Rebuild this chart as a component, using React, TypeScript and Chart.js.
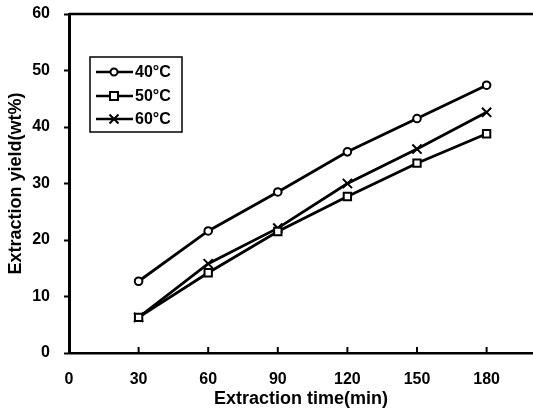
import React, { useEffect, useRef } from 'react';
import { Chart, registerables } from 'chart.js';
Chart.register(...registerables);

const times = [30, 60, 90, 120, 150, 180];
const yield40 = [12.7, 21.6, 28.5, 35.6, 41.5, 47.4];
const yield50 = [6.3, 14.2, 21.5, 27.7, 33.6, 38.8];
const yield60 = [6.3, 15.8, 22.1, 30.0, 36.1, 42.6];
const seriesLabels = ['40°C', '50°C', '60°C'];
const xTickValues = [0, 30, 60, 90, 120, 150, 180];
const yTickValues = [0, 10, 20, 30, 40, 50, 60];
const xTitle = 'Extraction time(min)';
const yTitle = 'Extraction yield(wt%)';

const FONT = '"Liberation Sans", Arial, sans-serif';

function drawMarker(ctx: CanvasRenderingContext2D, style: string, x: number, y: number) {
  ctx.save();
  ctx.lineWidth = 2;
  ctx.strokeStyle = '#000';
  ctx.fillStyle = '#fff';
  ctx.beginPath();
  if (style === 'circle') {
    ctx.arc(x, y, 3.5, 0, Math.PI * 2);
    ctx.fill();
    ctx.stroke();
  } else if (style === 'rect') {
    ctx.rect(x - 4, y - 4, 8, 8);
    ctx.fill();
    ctx.stroke();
  } else {
    const r = 4.5;
    ctx.moveTo(x - r, y - r);
    ctx.lineTo(x + r, y + r);
    ctx.moveTo(x + r, y - r);
    ctx.lineTo(x - r, y + r);
    ctx.stroke();
  }
  ctx.restore();
}

const framePlugin = {
  id: 'frame',
  afterDraw(chart: any) {
    const ctx = chart.ctx as CanvasRenderingContext2D;
    const { left, right, top, bottom } = chart.chartArea;
    const xs = chart.scales.x;
    ctx.save();
    ctx.strokeStyle = '#000';
    ctx.lineWidth = 2.5;
    ctx.beginPath();
    ctx.moveTo(left, top);
    ctx.lineTo(right, top);
    ctx.stroke();
    ctx.lineWidth = 2;
    xTickValues.forEach((v) => {
      if (v === 0) return;
      const px = xs.getPixelForValue(v);
      ctx.beginPath();
      ctx.moveTo(px, bottom);
      ctx.lineTo(px, bottom - 6);
      ctx.stroke();
    });
    const bx = 90, by = 57, bw = 92, bh = 75;
    ctx.lineWidth = 1.5;
    ctx.fillStyle = '#fff';
    ctx.fillRect(bx, by, bw, bh);
    ctx.strokeRect(bx, by, bw, bh);
    const styles = ['circle', 'rect', 'crossRot'];
    const rowsY = [72, 96, 119];
    ctx.font = `bold 16px ${FONT}`;
    ctx.textBaseline = 'middle';
    ctx.textAlign = 'left';
    rowsY.forEach((ry, i) => {
      ctx.lineWidth = 2.5;
      ctx.beginPath();
      ctx.moveTo(96, ry);
      ctx.lineTo(133, ry);
      ctx.stroke();
      drawMarker(ctx, styles[i], 114, ry);
      ctx.fillStyle = '#000';
      ctx.fillText(seriesLabels[i], 135, ry + 1);
    });
    ctx.restore();
  },
};

export default function App() {
  const ref = useRef<HTMLCanvasElement | null>(null);
  useEffect(() => {
    if (!ref.current) return;
    const mk = (vals: number[]) => times.map((t, i) => ({ x: t, y: vals[i] }));
    const common = {
      borderColor: '#000',
      borderWidth: 2.8,
      pointBorderColor: '#000',
      pointBackgroundColor: '#fff',
      pointBorderWidth: 2,
      tension: 0,
      fill: false,
    };
    const chart = new Chart(ref.current, {
      type: 'line',
      data: {
        datasets: [
          { ...common, label: seriesLabels[0], data: mk(yield40), pointStyle: 'circle', pointRadius: 3.8 },
          { ...common, label: seriesLabels[1], data: mk(yield50), pointStyle: 'rect', pointRadius: 5.2 },
          { ...common, label: seriesLabels[2], data: mk(yield60), pointStyle: 'crossRot', pointRadius: 6.5 },
        ],
      },
      options: {
        responsive: false,
        animation: false,
        layout: { autoPadding: false, padding: { top: 14, right: 0, bottom: 0, left: 0 } },
        plugins: { legend: { display: false }, tooltip: { enabled: false } },
        scales: {
          x: {
            type: 'linear',
            min: 0,
            max: 200,
            afterBuildTicks: (s: any) => { s.ticks = xTickValues.map((v) => ({ value: v })); },
            afterFit: (s: any) => { s.height = 60; s.paddingLeft = 0; s.paddingRight = 0; },
            grid: { display: true, drawOnChartArea: false, drawTicks: false },
            border: { display: true, color: '#000', width: 2.5 },
            ticks: { color: '#000', font: { family: FONT, size: 16, weight: 'bold' }, padding: 17, maxRotation: 0 },
            title: { display: true, text: xTitle, color: '#000', font: { family: FONT, size: 18, weight: 'bold' }, padding: { top: 0, bottom: 3 } },
          },
          y: {
            min: 0,
            max: 60,
            afterBuildTicks: (s: any) => { s.ticks = yTickValues.map((v) => ({ value: v })); },
            afterFit: (s: any) => { s.width = 69; s.paddingTop = 0; s.paddingBottom = 0; },
            grid: { display: true, drawOnChartArea: false, drawTicks: true, tickLength: 5, tickWidth: 2, tickColor: '#000' },
            border: { display: true, color: '#000', width: 3 },
            ticks: { color: '#000', font: { family: FONT, size: 16, weight: 'bold' }, padding: 14 },
            title: { display: true, text: yTitle, color: '#000', font: { family: FONT, size: 18, weight: 'bold' }, padding: { top: 5, bottom: 0 } },
          },
        },
      },
      plugins: [framePlugin],
    } as any);
    return () => chart.destroy();
  }, []);
  return (
    <div style={{ position: 'absolute', left: 0, top: 0, width: 533, height: 413, background: '#fff' }}>
      <canvas ref={ref} width={533} height={413} style={{ display: 'block' }} />
    </div>
  );
}
